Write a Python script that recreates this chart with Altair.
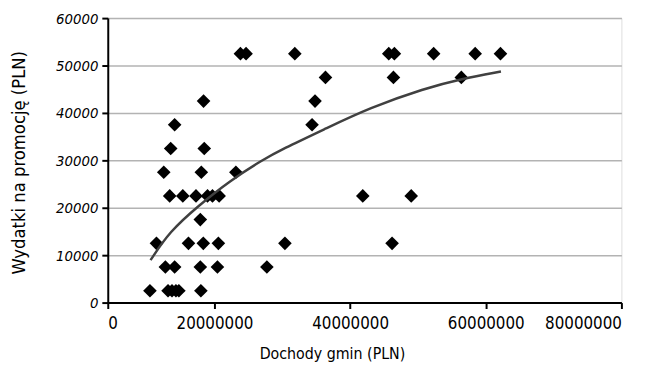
import altair as alt
import pandas as pd

# Scatter data: municipal income (PLN) vs promotion spending (PLN)
income = [
    23830000, 24660000, 31850000, 45700000, 46530000, 52320000, 58440000, 62170000,
    36370000, 46390000, 56400000,
    17960000, 34830000,
    12540000, 34390000,
    11800000, 18090000,
    10500000, 17540000, 23160000,
    11610000, 14070000, 16540000, 18700000, 19630000, 20690000, 41870000, 49010000,
    17350000,
    9130000, 15130000, 17910000, 20580000, 30390000, 46190000,
    10800000, 12540000, 17350000, 20440000, 27730000,
    7910000, 11300000, 12040000, 12780000, 13330000, 17460000,
]
spending = (
    [52500] * 8 + [47500] * 3 + [42500] * 2 + [37500] * 2 + [32500] * 2
    + [27500] * 3 + [22500] * 8 + [17500] * 1 + [12500] * 6 + [7500] * 5 + [2500] * 6
)

# Trend line
trend_x = [8020000, 11610000, 16850000, 22380000, 27100000, 29910000,
           36470000, 42780000, 51050000, 56400000, 62240000]
trend_y = [8958, 15000, 20300, 25800, 30090, 32300,
           36750, 41042, 45208, 47188, 48750]

x_ticks = [0, 20000000, 40000000, 60000000, 80000000]
y_ticks = [0, 10000, 20000, 30000, 40000, 50000, 60000]

pts = pd.DataFrame({"x": income, "y": spending})
trend = pd.DataFrame({"x": trend_x, "y": trend_y})

FONT = "'Liberation Sans Narrow', 'Arial Narrow', 'DejaVu Sans Condensed', 'Roboto Condensed', 'Liberation Sans', sans-serif"

xscale = alt.Scale(domain=[0, 20000000, 80000000], range=[0, 108, 520], nice=False, zero=False)
yscale = alt.Scale(domain=[0, 60000], nice=False)

xaxis = alt.Axis(
    values=x_ticks, format="d", title="Dochody gmin (PLN)", grid=False,
    domainColor="black", domainWidth=2, tickColor="black", tickWidth=2, tickSize=6,
    labelFont=FONT, labelFontSize=17, labelColor="black", labelPadding=7,
    titleFont=FONT, titleFontSize=16, titleFontWeight="normal", titleColor="black",
    titleX=227, titleY=44, titleAlign="center", titleBaseline="top",
)
yaxis = alt.Axis(
    values=y_ticks, format="d", title="Wydatki na promocję (PLN)",
    grid=True, gridColor="#b3b3b3", gridWidth=1.5,
    domainColor="black", domainWidth=2, tickColor="black", tickWidth=2, tickSize=6,
    labelFont=FONT, labelFontSize=15, labelFontStyle="italic", labelColor="black",
    labelPadding=4,
    titleFont=FONT, titleFontSize=18.5, titleFontWeight="normal", titleColor="black",
    titleX=-80, titleY=146, titleAlign="center", titleBaseline="bottom",
)

points = alt.Chart(pts).mark_point(
    shape="diamond", filled=True, color="black", size=190, opacity=1
).encode(
    x=alt.X("x:Q", scale=xscale, axis=xaxis),
    y=alt.Y("y:Q", scale=yscale, axis=yaxis),
)

line = alt.Chart(trend).mark_line(
    color="#404040", strokeWidth=2.5, interpolate="basis"
).encode(
    x=alt.X("x:Q", scale=xscale),
    y=alt.Y("y:Q", scale=yscale),
)

chart = (points + line).properties(
    width=520, height=288,
    autosize=alt.AutoSizeParams(type="none"),
    padding={"left": 101, "top": 8, "right": 33, "bottom": 65},
).configure_view(stroke=None).configure(background="white")

chart.save("out.html", embed_options={"renderer": "svg", "actions": False})
